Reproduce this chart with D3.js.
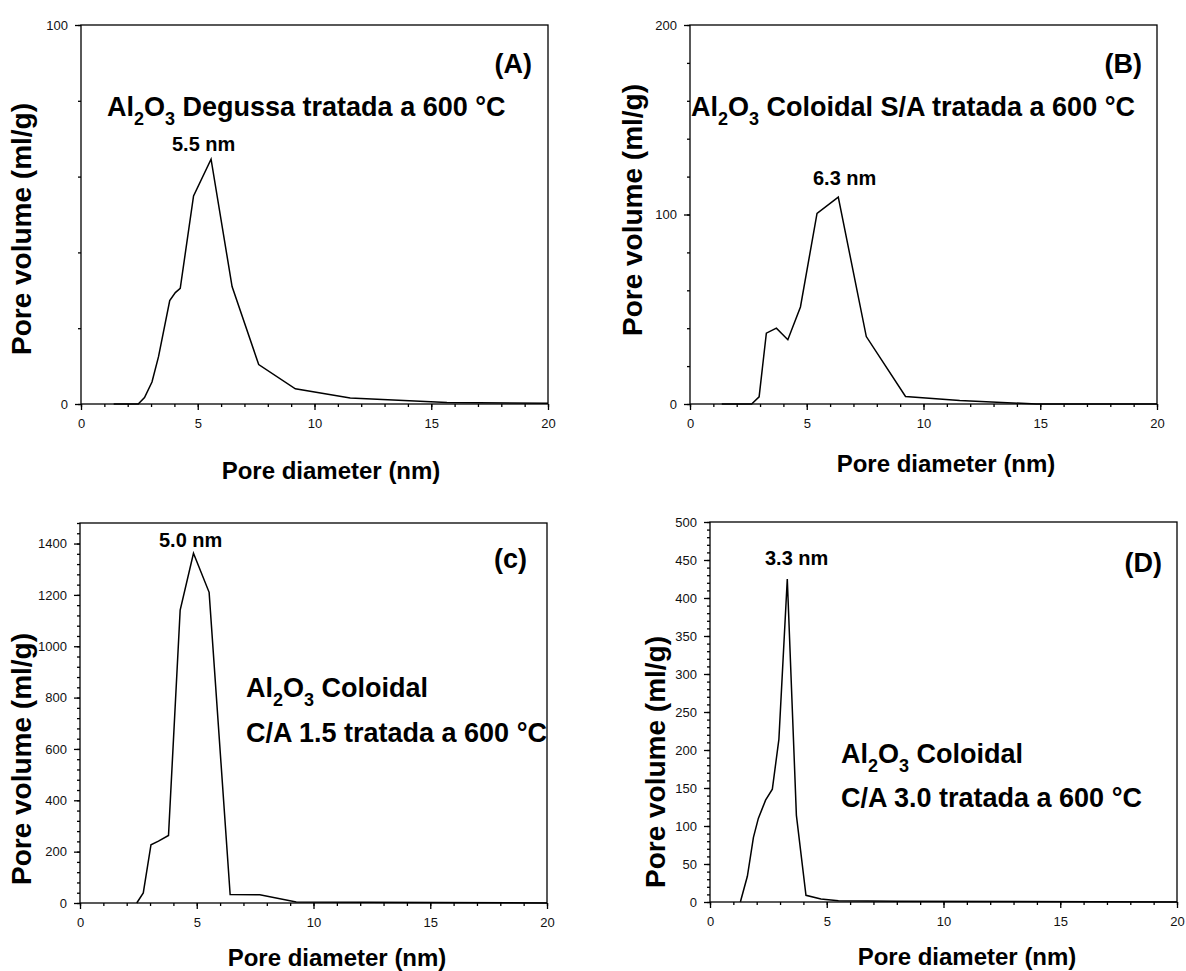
<!DOCTYPE html>
<html>
<head>
<meta charset="utf-8">
<script src="https://cdn.jsdelivr.net/npm/d3@7"></script>
<style>
  body { margin: 0; background: #fff; }
  text { font-family: "Liberation Sans", Arial, sans-serif; }
</style>
</head>
<body>
<script>
// x ticks shared by all four panels
var xTickLabels = [0, 5, 10, 15, 20];

// (A) Degussa
var aDiam = [1.4, 2.45, 2.72, 3.04, 3.32, 3.8, 4.04, 4.25, 4.82, 5.57, 6.47, 7.61, 9.18, 11.53, 15.67, 20];
var aVol  = [0, 0, 1.7, 5.8, 12.5, 27.3, 29.4, 30.5, 54.9, 64.6, 31, 10.4, 4.0, 1.6, 0.4, 0.2];
var aYTicks = [0, 100];

// (B) Coloidal S/A
var bDiam = [1.36, 2.64, 2.96, 3.27, 3.7, 4.19, 4.73, 5.44, 6.35, 7.55, 9.23, 11.55, 14.84, 20];
var bVol  = [0, 0, 3.8, 37.4, 40, 33.9, 51.2, 100.6, 109.2, 35.6, 4.0, 1.9, 0, 0];
var bYTicks = [0, 100, 200];

// (c) Coloidal C/A 1.5
var cDiam = [2.43, 2.71, 3.04, 3.36, 3.79, 4.29, 4.86, 5.53, 6.43, 7.7, 9.26, 20];
var cVol  = [0, 39, 227, 241, 263, 1141, 1362, 1210, 33, 32, 4, 0];
var cYTicks = [0, 200, 400, 600, 800, 1000, 1200, 1400];

// (D) Coloidal C/A 3.0
var dDiam = [1.3, 1.6, 1.86, 2.07, 2.38, 2.67, 2.95, 3.31, 3.7, 4.11, 4.75, 5.5, 8, 20];
var dVol  = [0, 33.8, 85, 110, 134, 148.5, 214, 425, 114, 8.8, 4, 1.8, 0.9, 0];
var dYTicks = [0, 50, 100, 150, 200, 250, 300, 350, 400, 450, 500];

var svg = d3.select("body").append("svg")
  .attr("width", 1186)
  .attr("height", 971);

function styleAxis(sel) {
  sel.attr("font-family", "Liberation Sans, Arial, sans-serif")
    .attr("font-size", 13);
  sel.selectAll("line").attr("stroke", "#000").attr("stroke-width", 1.3);
  sel.selectAll("text").attr("fill", "#111");
  sel.select(".domain").remove();
}

// Al2O3 label with subscripts, then the rest of the line
function formula(g, x, y, rest) {
  var t = g.append("text")
    .attr("x", x).attr("y", y)
    .attr("font-size", 27)
    .attr("font-weight", "bold");
  t.append("tspan").text("Al");
  t.append("tspan").attr("font-size", 18).attr("dy", 9).text("2");
  t.append("tspan").attr("dy", -9).text("O");
  t.append("tspan").attr("font-size", 18).attr("dy", 9).text("3");
  t.append("tspan").attr("dy", -9).text(rest);
}

function boldText(g, x, y, txt, size, anchor) {
  g.append("text")
    .attr("x", x).attr("y", y)
    .attr("font-size", size)
    .attr("font-weight", "bold")
    .attr("text-anchor", anchor || "start")
    .text(txt);
}

function panel(p) {
  var x = d3.scaleLinear().domain([0, 20]).range([p.left, p.right]);
  var y = d3.scaleLinear().domain([0, p.yMax]).range([p.bottom, p.top]);
  var g = svg.append("g");

  // minor ticks
  g.append("g")
    .attr("transform", `translate(0, ${p.bottom})`)
    .call(d3.axisBottom(x).tickValues(d3.range(0, 21, 1)).tickSize(3).tickFormat(""))
    .call(styleAxis);
  g.append("g")
    .attr("transform", `translate(${p.left}, 0)`)
    .call(d3.axisLeft(y).tickValues(d3.range(0, p.yMax + 0.1, p.yMinor)).tickSize(3).tickFormat(""))
    .call(styleAxis);

  // major ticks + labels
  g.append("g")
    .attr("transform", `translate(0, ${p.bottom})`)
    .call(d3.axisBottom(x).tickValues(xTickLabels).tickSize(6).tickPadding(9).tickFormat(d3.format("d")))
    .call(styleAxis);
  g.append("g")
    .attr("transform", `translate(${p.left}, 0)`)
    .call(d3.axisLeft(y).tickValues(p.yTicks).tickSize(6).tickPadding(7).tickFormat(d3.format("d")))
    .call(styleAxis);

  // frame
  g.append("rect")
    .attr("x", p.left).attr("y", p.top)
    .attr("width", p.right - p.left)
    .attr("height", p.bottom - p.top)
    .attr("fill", "none")
    .attr("stroke", "#000")
    .attr("stroke-width", 1.3);

  var line = d3.line()
    .x(function(d, i) { return x(p.xs[i]); })
    .y(function(d) { return y(d); });

  g.append("path")
    .datum(p.ys)
    .attr("d", line)
    .attr("fill", "none")
    .attr("stroke", "#000")
    .attr("stroke-width", 1.5)
    .attr("stroke-linejoin", "miter");

  // axis titles
  boldText(g, p.xTitle[0], p.xTitle[1], "Pore diameter (nm)", 24, "middle");
  g.append("text")
    .attr("transform", `translate(${p.yTitle[0]}, ${p.yTitle[1]}) rotate(-90)`)
    .attr("font-size", 28)
    .attr("font-weight", "bold")
    .attr("text-anchor", "middle")
    .text("Pore volume (ml/g)");

  boldText(g, p.tag[0], p.tag[1], p.tag[2], 27, "end");
  boldText(g, p.peak[0], p.peak[1], p.peak[2], 20, "start");
  return g;
}

var gA = panel({
  left: 81, right: 548, top: 25, bottom: 404,
  yMax: 100, yMinor: 20, yTicks: aYTicks,
  xs: aDiam, ys: aVol,
  xTitle: [331, 479], yTitle: [31, 229],
  tag: [532, 73, "(A)"], peak: [172, 151, "5.5 nm"]
});
formula(gA, 107, 116, " Degussa tratada a 600 °C");

var gB = panel({
  left: 690, right: 1157, top: 25, bottom: 404,
  yMax: 200, yMinor: 20, yTicks: bYTicks,
  xs: bDiam, ys: bVol,
  xTitle: [946, 472], yTitle: [642, 210],
  tag: [1142, 73, "(B)"], peak: [813, 185, "6.3 nm"]
});
formula(gB, 691, 116, " Coloidal S/A tratada a 600 °C");

var gC = panel({
  left: 80, right: 547, top: 523, bottom: 903,
  yMax: 1480, yMinor: 40, yTicks: cYTicks,
  xs: cDiam, ys: cVol,
  xTitle: [337, 966], yTitle: [31, 759],
  tag: [527, 568, "(c)"], peak: [159, 547, "5.0 nm"]
});
formula(gC, 246, 697, " Coloidal");
boldText(gC, 246, 742, "C/A 1.5 tratada a 600 °C", 27, "start");

var gD = panel({
  left: 710, right: 1177, top: 522, bottom: 902,
  yMax: 500, yMinor: 10, yTicks: dYTicks,
  xs: dDiam, ys: dVol,
  xTitle: [967, 965], yTitle: [665, 762],
  tag: [1162, 572, "(D)"], peak: [765, 565, "3.3 nm"]
});
formula(gD, 841, 763, " Coloidal");
boldText(gD, 841, 807, "C/A 3.0 tratada a 600 °C", 27, "start");
</script>
</body>
</html>
